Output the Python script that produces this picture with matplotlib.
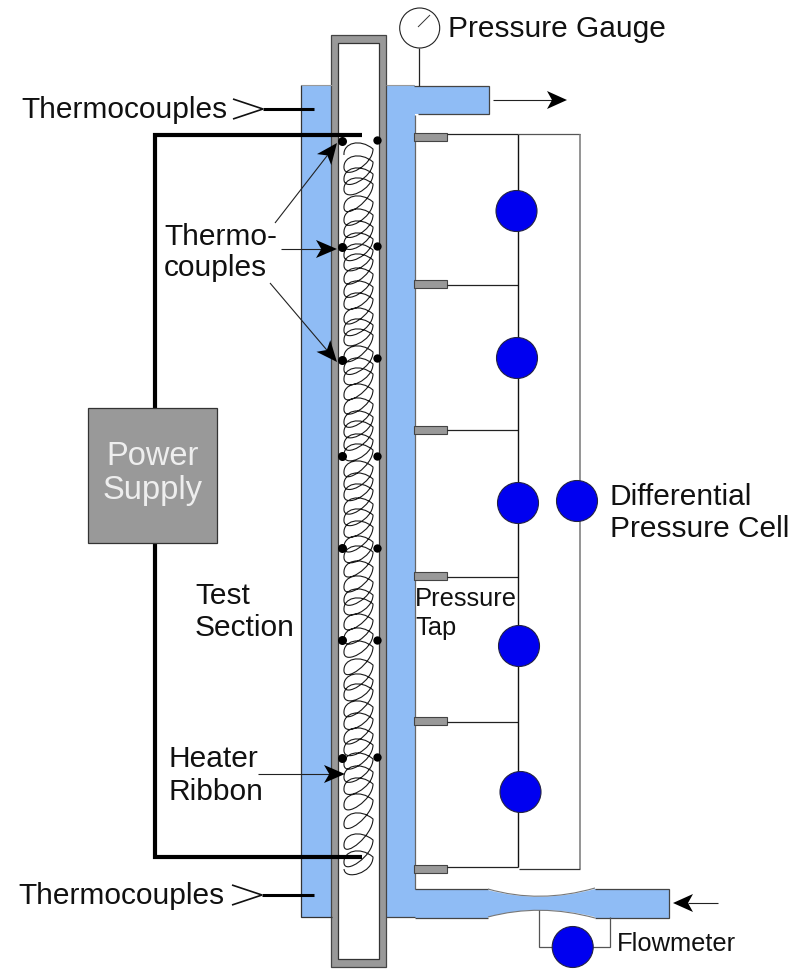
import matplotlib
matplotlib.use("Agg")
import matplotlib.pyplot as plt
from matplotlib.patches import Circle, PathPatch, Polygon, Rectangle
from matplotlib.path import Path

plt.rcParams["font.family"] = ["Liberation Sans", "DejaVu Sans"]

BLUE = "#8FBCF5"
GRAY = "#999999"
CELL = "#0000F0"

# values (pixels, y down)
tap_y = [137, 284, 430, 576, 721, 869]
line_y = [134, 285, 430, 577, 722, 867]
cell_x = [516.5, 517, 518, 519, 520.5]
cell_y = [211, 358, 503, 646, 792]
dot_left_y = [141, 247, 360, 456, 548, 640, 758]
dot_right_y = [140, 246, 358, 456, 548, 640, 757]
coil_y = [152, 165, 177, 187, 205, 218, 230, 242, 253, 263, 277, 290, 302, 317,
          328, 338, 355, 367, 377, 393, 407, 420, 430, 443, 453, 470, 482, 493,
          507, 518, 530, 545, 555, 570, 585, 598, 607, 623, 637, 650, 668, 683,
          693, 710, 722, 737, 748, 762, 775, 787, 803, 822, 843, 860]


def rect(ax, x0, y0, x1, y1, fc, ec="none", lw=0.0, z=1):
    ax.add_patch(Rectangle((x0, y0), x1 - x0, y1 - y0, fc=fc, ec=ec, lw=lw, zorder=z))


def line(ax, xs, ys, lw=0.9, color="#111111", z=3):
    ax.plot(xs, ys, color=color, lw=lw, solid_capstyle="butt", solid_joinstyle="miter", zorder=z)


def arrow(ax, x0, y0, x1, y1, length=21, half=9, lw=0.8):
    # thin shaft with a notched solid head, tip at (x1, y1)
    d = ((x1 - x0) ** 2 + (y1 - y0) ** 2) ** 0.5
    ux, uy = (x1 - x0) / d, (y1 - y0) / d
    bx, by = x1 - ux * length, y1 - uy * length
    nx, ny = x1 - ux * length * 0.75, y1 - uy * length * 0.75
    line(ax, [x0, nx], [y0, ny], lw=lw, color="#222222", z=5)
    ax.add_patch(Polygon([(x1, y1), (bx - uy * half, by + ux * half), (nx, ny),
                          (bx + uy * half, by - ux * half)], fc="black", ec="none", zorder=6))


def draw_jacket(ax):
    # shell, outlet and inlet pipes
    rect(ax, 301.5, 85, 332, 917, BLUE)
    rect(ax, 386, 85, 415, 917, BLUE)
    rect(ax, 414, 86, 489, 113.5, BLUE)
    rect(ax, 414, 889, 488, 918, BLUE)
    rect(ax, 595, 889, 669, 918, BLUE)
    verts = [(488, 890), (540, 904), (595, 889), (595, 917), (540, 903), (488, 917), (488, 890)]
    codes = [Path.MOVETO, Path.CURVE3, Path.CURVE3, Path.LINETO, Path.CURVE3, Path.CURVE3, Path.CLOSEPOLY]
    ax.add_patch(PathPatch(Path(verts, codes), fc=BLUE, ec="none", zorder=1))
    # outlines
    line(ax, [301.5, 301.5, 332], [85, 917, 917], lw=0.9, color="#333333")
    line(ax, [301.5, 332], [85, 85], lw=0.8, color="#999999")
    line(ax, [386, 414], [85, 85], lw=0.8, color="#999999")
    line(ax, [386, 415], [917, 917], lw=0.9, color="#444444")
    line(ax, [415, 415], [115, 889], lw=0.9, color="#666666")
    line(ax, [414, 489, 489, 418], [86, 86, 113.5, 113.5], lw=0.9, color="#444444")
    line(ax, [415, 488], [889, 889], lw=0.9, color="#444444")
    line(ax, [415, 488], [918, 918], lw=0.9, color="#444444")
    line(ax, [595, 669, 669, 595], [889, 889, 918, 918], lw=0.9, color="#444444")
    for v in ([(488, 889), (540, 904), (595, 888)], [(488, 917), (540, 903), (595, 918)]):
        ax.add_patch(PathPatch(Path(v, [Path.MOVETO, Path.CURVE3, Path.CURVE3]), fc="none",
                               ec="#777777", lw=0.8, zorder=3))


def draw_tube(ax):
    rect(ax, 331.5, 35, 386, 967, GRAY, ec="#444444", lw=0.9, z=2)
    rect(ax, 338.5, 43, 379.5, 959, "white", ec="#333333", lw=0.9, z=2)


def draw_coil(ax):
    # one continuous ribbon: up to the right tip, back under, curl at the left
    verts, codes = [], []
    for i, y in enumerate(coil_y):
        next_y = coil_y[i + 1] if i + 1 < len(coil_y) else y + 6
        if i == 0:
            verts.append((344, y + 3))
            codes.append(Path.MOVETO)
        verts += [(343, y - 9), (360, y - 14), (373, y - 3)]
        verts += [(373, y + 13), (345, next_y + 15), (344, next_y + 3)]
        codes += [Path.CURVE4] * 6
    ax.add_patch(PathPatch(Path(verts, codes), fc="none", ec="#1a1a1a", lw=0.8, zorder=3))


def draw_pressure_side(ax):
    for y in tap_y:
        rect(ax, 414, y - 4, 447, y + 4, GRAY, ec="#444444", lw=0.8, z=3)
    for y in line_y:
        line(ax, [447, 518], [y, y], lw=0.9, color="#222222")
    line(ax, [518, 518], [line_y[0], line_y[-1]], lw=1.0)
    line(ax, [518, 580], [134, 134], lw=0.9, color="#555555")
    line(ax, [580, 580], [134, 869], lw=1.1, color="#777777")
    line(ax, [519, 580], [869, 869], lw=0.9, color="#333333")
    for x, y in zip(cell_x, cell_y):
        ax.add_patch(Circle((x, y), 20.5, fc=CELL, ec="#222244", lw=0.8, zorder=4))
    ax.add_patch(Circle((577, 501), 20.5, fc=CELL, ec="#222244", lw=0.8, zorder=4))
    # flowmeter
    line(ax, [539, 539, 610, 610], [910, 947, 947, 917], lw=0.9, color="#555555")
    ax.add_patch(Circle((572.7, 947), 20.5, fc=CELL, ec="#222244", lw=0.8, zorder=4))
    # gauge
    line(ax, [419.5, 419.5], [48, 86], lw=0.9, color="#222222")
    ax.add_patch(Circle((419.7, 28), 20, fc="white", ec="#222222", lw=0.8, zorder=4))
    line(ax, [418, 430], [27, 15], lw=0.7, color="#333333", z=5)


def draw_power(ax):
    line(ax, [362, 155, 155], [135, 135, 408], lw=3.0, color="black", z=4)
    line(ax, [155, 155, 362], [543, 857, 857], lw=3.0, color="black", z=4)
    rect(ax, 88, 408, 217, 543, GRAY, ec="#333333", lw=0.9, z=4)
    # external thermocouple leads
    for y, x_tip, x_back in ((109, 263, 233), (895, 262, 232)):
        line(ax, [x_tip, 314], [y, y], lw=2.2, color="black", z=4)
        line(ax, [x_back, x_tip, x_back], [y - 10, y, y + 10], lw=1.2, color="#111111", z=4)


def draw_labels(ax):
    big = dict(fontsize=21.5, color="#111111", zorder=7, va="baseline", ha="left")
    ax.text(21, 118, "Thermocouples", **big)
    ax.text(18, 904, "Thermocouples", **big)
    ax.text(164, 245, "Thermo-", **big)
    ax.text(164, 276, "couples", **big)
    ax.text(195, 604, "Test", **big)
    ax.text(195, 636, "Section", **big)
    ax.text(169, 767, "Heater", **big)
    ax.text(169, 800, "Ribbon", **big)
    ax.text(448, 37, "Pressure Gauge", **big)
    ax.text(610, 505, "Differential", **big)
    ax.text(610, 537, "Pressure Cell", **big)
    small = dict(fontsize=18.4, color="#111111", zorder=7, va="baseline", ha="left")
    ax.text(415, 606, "Pressure", **small)
    ax.text(415, 635, "Tap", **small)
    ax.text(617, 951, "Flowmeter", **small)
    ax.text(153, 465, "Power", fontsize=23.5, color="#EEEEEE", zorder=7, va="baseline", ha="center")
    ax.text(153, 499, "Supply", fontsize=23.5, color="#EEEEEE", zorder=7, va="baseline", ha="center")


def main():
    fig = plt.figure(figsize=(8.04, 9.69), dpi=100)
    ax = fig.add_axes([0, 0, 1, 1])
    ax.set_xlim(0, 804)
    ax.set_ylim(969, 0)
    ax.axis("off")

    draw_jacket(ax)
    draw_tube(ax)
    draw_coil(ax)
    draw_pressure_side(ax)
    draw_power(ax)

    ax.scatter([342] * len(dot_left_y), dot_left_y, s=42, color="black", zorder=5, linewidths=0)
    ax.scatter([377] * len(dot_right_y), dot_right_y, s=36, color="black", zorder=5, linewidths=0)

    arrow(ax, 275, 223, 337, 143)
    arrow(ax, 281, 249, 337, 249)
    arrow(ax, 270, 283, 337, 362)
    arrow(ax, 258, 774, 345, 774)
    arrow(ax, 493, 100, 567, 100, length=20, half=9)
    arrow(ax, 718, 903, 673, 903, length=20, half=9)

    draw_labels(ax)
    fig.savefig("out.png", dpi=100)


if __name__ == "__main__":
    main()
